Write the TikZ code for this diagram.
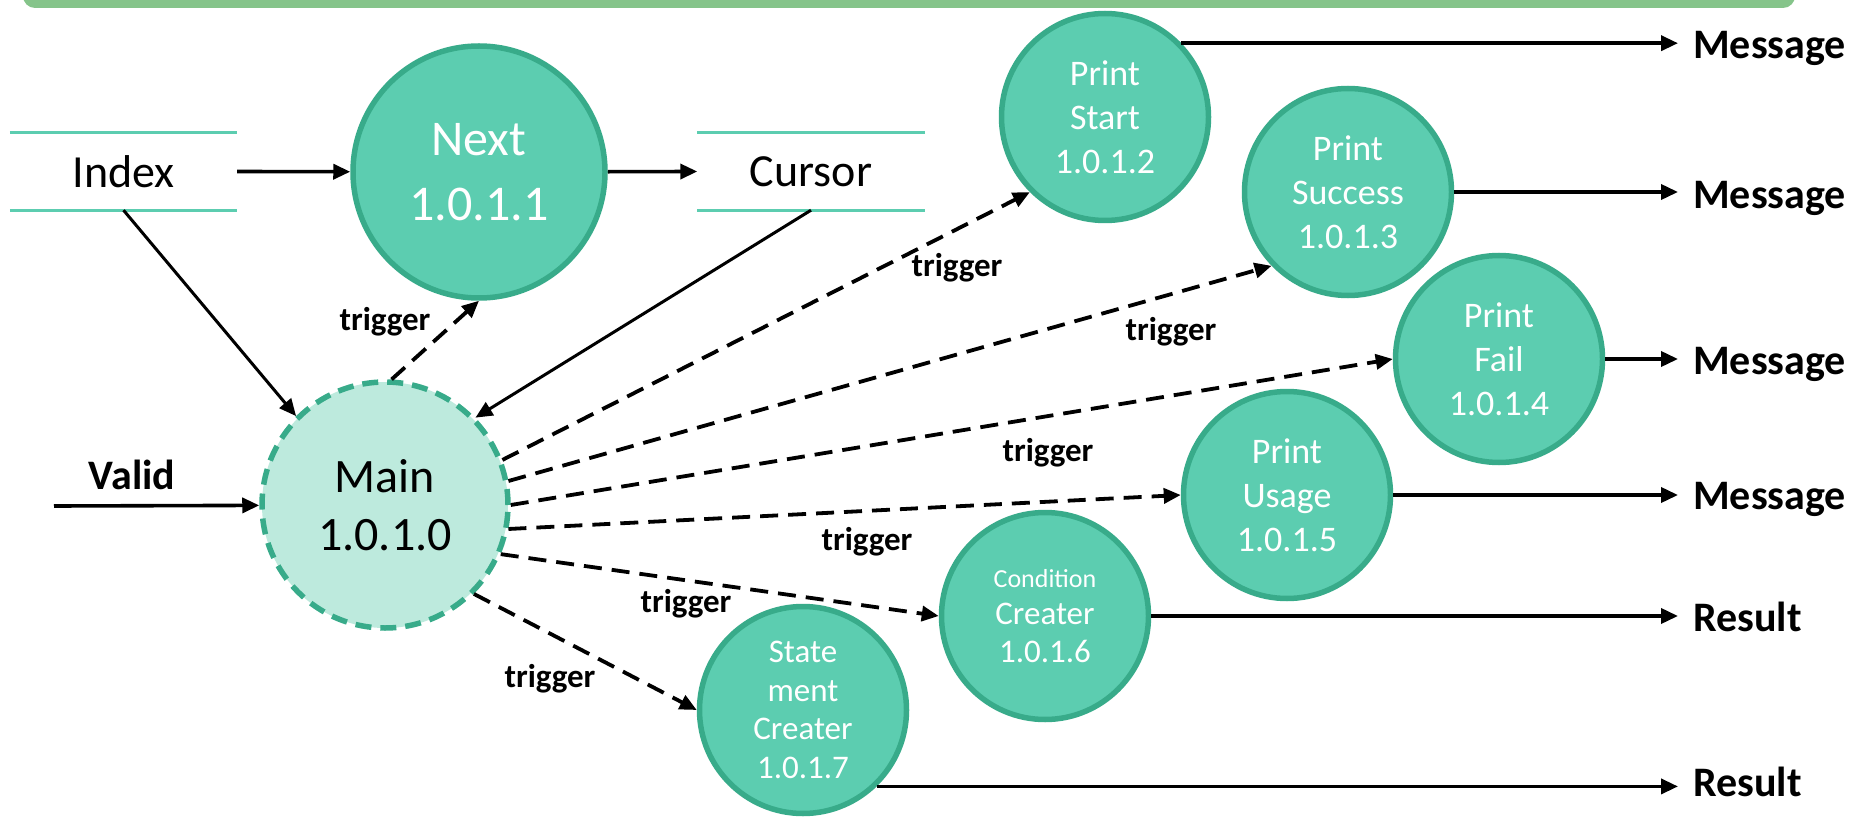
\documentclass[tikz,border=0pt]{standalone}
\usepackage{fontspec}
\setmainfont{Carlito}
\usepackage{xcolor}
\usepackage{tikz}
\usetikzlibrary{arrows.meta}

\definecolor{procfill}{HTML}{5CCDB0}
\definecolor{procline}{HTML}{38AB8A}
\definecolor{mainfill}{HTML}{BDEADD}
\definecolor{storeline}{HTML}{5CCDB0}
\definecolor{barfill}{HTML}{85C48A}

\begin{document}
\begin{tikzpicture}[
        x=1pt, y=-1pt,
        proc/.style={circle, draw=procline, fill=procfill, line width=5.5pt, minimum size=207pt, inner sep=0pt, align=center, text=white, font=\fontsize{36}{44}\selectfont},
        bigproc/.style={proc, minimum size=252pt, font=\fontsize{50}{65}\selectfont},
        mainproc/.style={proc, minimum size=246pt, fill=mainfill, text=black, dash pattern=on 16pt off 9pt, font=\fontsize{48}{58}\selectfont},
        store/.style={minimum width=227pt, minimum height=77pt, inner sep=0pt, font=\fontsize{46}{55}\selectfont},
        sink/.style={anchor=west, inner xsep=15pt, inner ysep=0pt, font=\bfseries\fontsize{42}{50}\selectfont},
        lbl/.style={font=\bfseries\fontsize{33}{40}\selectfont},
        flow/.style={-{Triangle[length=17pt, width=15pt]}, line width=3.6pt},
        trig/.style={flow, line width=3.8pt, dash pattern=on 18pt off 10pt}
    ]
        \useasboundingbox (0,0) rectangle (1871,818);
        \fill[barfill, rounded corners=12pt] (23,-20) rectangle (1795,8);

        % Nodes
        \node[store] (index) at (123.5,171.5) {Index};
        \node[store] (cursor) at (811,171.5) {Cursor};
        \node[bigproc] (next) at (479,172) {Next\\1.0.1.1};
        \node[mainproc] (main) at (385,505) {Main\\1.0.1.0};
        \node[proc] (start) at (1105,117) {Print\\Start\\1.0.1.2};
        \node[proc] (success) at (1348,192) {Print\\Success\\1.0.1.3};
        \node[proc] (fail) at (1499,359) {Print\\Fail\\1.0.1.4};
        \node[proc] (usage) at (1287,495) {Print\\Usage\\1.0.1.5};
        \node[proc, font=\fontsize{33}{37.5}\selectfont] (cond) at (1045,616) {{\fontsize{26}{37.5}\selectfont Condition}\\Creater\\1.0.1.6};
        \node[proc, font=\fontsize{33}{38.5}\selectfont] (stmt) at (803,710) {State\\ment\\Creater\\1.0.1.7};
        \coordinate (valid) at (54,506);
        \node[lbl, font=\bfseries\fontsize{42}{50}\selectfont] (validtext) at (132,475) {Valid};

        \node[sink] (msgA) at (1678,48) {Message};
        \node[sink] (msgB) at (1678,198) {Message};
        \node[sink] (msgC) at (1678,364) {Message};
        \node[sink] (msgD) at (1678,499) {Message};
        \node[sink] (resA) at (1678,617) {Result};
        \node[sink] (resB) at (1678,782) {Result};

        \node[lbl] (tnext) at (385,322) {trigger};
        \node[lbl] (tstart) at (957,268) {trigger};
        \node[lbl] (tsuccess) at (1171,332) {trigger};
        \node[lbl] (tfail) at (1048,453) {trigger};
        \node[lbl] (tusage) at (867,542) {trigger};
        \node[lbl] (tcond) at (686,604) {trigger};
        \node[lbl] (tstmt) at (550,679) {trigger};

        % Store lines
        \draw[storeline, line width=3pt] (index.north west) -- (index.north east) (index.south west) -- (index.south east);
        \draw[storeline, line width=3pt] (cursor.north west) -- (cursor.north east) (cursor.south west) -- (cursor.south east);

        % Arrows
        \draw[flow] (index.east) -- (next);
        \draw[flow] (next) -- (cursor.west);
        \draw[flow, line width=3pt] (index.south) -- (main.135);
        \draw[flow, line width=3pt] (cursor.south) -- (main.44);
        \draw[flow] (valid) -- (main);
        \draw[flow] (start.44) -- (start.44 -| msgA.west);
        \draw[flow] (success) -- (success -| msgB.west);
        \draw[flow] (fail) -- (fail -| msgC.west);
        \draw[flow] (usage) -- (usage -| msgD.west);
        \draw[flow] (cond) -- (cond -| resA.west);
        \draw[flow] (stmt.-46) -- (stmt.-46 -| resB.west);

        % Triggers
        \draw[trig] (main.87) -- (next.south);
        \draw[trig] (main.21) -- (start.225);
        \draw[trig] (main.11) -- (success.224);
        \draw[trig] (main.east) -- (fail.west);
        \draw[trig] (main.-11) -- (usage.west);
        \draw[trig] (main.-23) -- (cond.west);
        \draw[trig] (main.-45) -- (stmt.west);
    \end{tikzpicture}
\end{document}
